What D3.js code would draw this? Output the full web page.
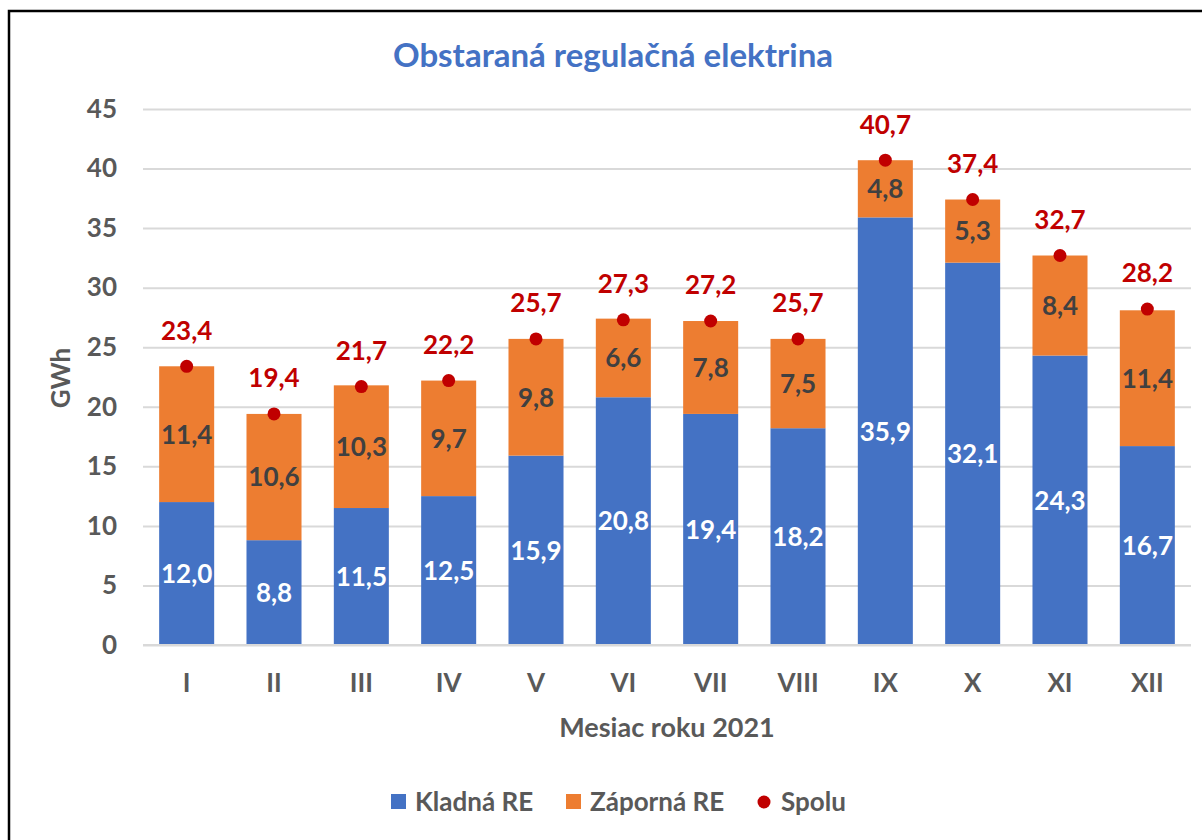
<!DOCTYPE html>
<html>
<head>
<meta charset="utf-8">
<script src="https://cdn.jsdelivr.net/npm/d3@7"></script>
<style>
  body { margin: 0; background: #fff; }
  svg text { font-family: Lato, "Open Sans", sans-serif; }
</style>
</head>
<body>
<div id="chart"></div>
<script>
// months of 2021
var months = ["I", "II", "III", "IV", "V", "VI", "VII", "VIII", "IX", "X", "XI", "XII"];
var kladna = [12.0, 8.8, 11.5, 12.5, 15.9, 20.8, 19.4, 18.2, 35.9, 32.1, 24.3, 16.7];
var zaporna = [11.4, 10.6, 10.3, 9.7, 9.8, 6.6, 7.8, 7.5, 4.8, 5.3, 8.4, 11.4];
var spolu = [23.4, 19.4, 21.7, 22.2, 25.7, 27.3, 27.2, 25.7, 40.7, 37.4, 32.7, 28.2];
var yTicks = [0, 5, 10, 15, 20, 25, 30, 35, 40, 45];

var width = 1202, height = 840;
var margin = { left: 143, right: 11, top: 109, bottom: 195 };

var fmt = function(v) { return v.toFixed(1).replace(".", ","); };

var svg = d3.select("#chart").append("svg")
    .attr("width", width)
    .attr("height", height);

svg.append("rect")
    .attr("x", 9).attr("y", 11)
    .attr("width", width).attr("height", height)
    .attr("fill", "#fff")
    .attr("stroke", "#000")
    .attr("stroke-width", 2.5);

var x = d3.scaleBand()
    .domain(months)
    .range([margin.left, width - margin.right])
    .paddingInner(0.37)
    .paddingOuter(0.185);

var y = d3.scaleLinear()
    .domain([0, 45])
    .range([height - margin.bottom, margin.top]);

// gridlines
var yAxis = svg.append("g")
    .attr("transform", "translate(" + margin.left + ",0)")
    .call(d3.axisLeft(y).tickValues(yTicks).tickSize(-(width - margin.right - margin.left)).tickPadding(26));
yAxis.select(".domain").remove();
yAxis.selectAll(".tick line").attr("stroke", "#d9d9d9").attr("stroke-width", 2);
yAxis.selectAll(".tick text")
    .attr("fill", "#595959")
    .style("font-size", "26px")
    .style("font-weight", "700");

var rows = months.map(function(m, i) {
    return { month: m, kladna: kladna[i], zaporna: zaporna[i], spolu: spolu[i] };
});
var stack = d3.stack().keys(["kladna", "zaporna"])(rows);
var colors = { kladna: "#4472C4", zaporna: "#ED7D31" };
var labelColors = { kladna: "#ffffff", zaporna: "#404040" };

var layers = svg.selectAll(".layer")
    .data(stack)
    .enter().append("g")
    .attr("class", "layer");

layers.selectAll("rect")
    .data(function(d) { return d; })
    .enter().append("rect")
    .attr("x", function(d) { return x(d.data.month); })
    .attr("y", function(d) { return y(d[1]); })
    .attr("width", x.bandwidth())
    .attr("height", function(d) { return y(d[0]) - y(d[1]); })
    .attr("fill", function(d) { return colors[d3.select(this.parentNode).datum().key]; });

layers.each(function(layer) {
    d3.select(this).selectAll("text")
        .data(layer)
        .enter().append("text")
        .attr("x", function(d) { return x(d.data.month) + x.bandwidth() / 2; })
        .attr("y", function(d) { return (y(d[0]) + y(d[1])) / 2; })
        .attr("dy", "0.36em")
        .attr("text-anchor", "middle")
        .attr("fill", labelColors[layer.key])
        .style("font-size", "26px")
        .style("font-weight", "700")
        .text(function(d) { return fmt(d[1] - d[0]); });
});

// zero line on top
svg.append("line")
    .attr("x1", margin.left).attr("x2", width - margin.right)
    .attr("y1", y(0)).attr("y2", y(0))
    .attr("stroke", "#d9d9d9").attr("stroke-width", 2);

// totals
svg.selectAll(".dot")
    .data(rows)
    .enter().append("circle")
    .attr("class", "dot")
    .attr("cx", function(d) { return x(d.month) + x.bandwidth() / 2; })
    .attr("cy", function(d) { return y(d.spolu); })
    .attr("r", 6.5)
    .attr("fill", "#C00000");

svg.selectAll(".total")
    .data(rows)
    .enter().append("text")
    .attr("class", "total")
    .attr("x", function(d) { return x(d.month) + x.bandwidth() / 2; })
    .attr("y", function(d) { return y(d.spolu) - 36; })
    .attr("dy", "0.36em")
    .attr("text-anchor", "middle")
    .attr("fill", "#C00000")
    .style("font-size", "26px")
    .style("font-weight", "700")
    .text(function(d) { return fmt(d.spolu); });

// x axis labels
var xAxis = svg.append("g")
    .attr("transform", "translate(0," + y(0) + ")")
    .call(d3.axisBottom(x).tickSize(0).tickPadding(28));
xAxis.select(".domain").remove();
xAxis.selectAll(".tick text")
    .attr("dy", "0")
    .attr("y", 47)
    .attr("fill", "#595959")
    .style("font-size", "26px")
    .style("font-weight", "700");

// titles
svg.append("text")
    .attr("x", 613).attr("y", 55)
    .attr("dy", "0.36em")
    .attr("text-anchor", "middle")
    .attr("fill", "#4472C4")
    .style("font-size", "33px")
    .style("font-weight", "700")
    .text("Obstaraná regulačná elektrina");

svg.append("text")
    .attr("x", (margin.left + width - margin.right) / 2).attr("y", 727)
    .attr("dy", "0.36em")
    .attr("text-anchor", "middle")
    .attr("fill", "#595959")
    .style("font-size", "27px")
    .style("font-weight", "700")
    .text("Mesiac roku 2021");

svg.append("text")
    .attr("transform", "translate(61,378) rotate(-90)")
    .attr("dy", "0.36em")
    .attr("text-anchor", "middle")
    .attr("fill", "#595959")
    .style("font-size", "26px")
    .style("font-weight", "700")
    .text("GWh");

// legend
var legendItems = [
    { name: "Kladná RE", color: "#4472C4", shape: "rect", x: 391 },
    { name: "Záporná RE", color: "#ED7D31", shape: "rect", x: 566 },
    { name: "Spolu", color: "#C00000", shape: "circle", x: 757 }
];
var legend = svg.append("g").attr("transform", "translate(0,802)");
legendItems.forEach(function(it) {
    if (it.shape === "rect") {
        legend.append("rect").attr("x", it.x).attr("y", -8).attr("width", 15).attr("height", 15).attr("fill", it.color);
    } else {
        legend.append("circle").attr("cx", it.x + 7).attr("cy", 0).attr("r", 6.5).attr("fill", it.color);
    }
    legend.append("text")
        .attr("x", it.x + 24).attr("y", 0)
        .attr("dy", "0.36em")
        .attr("fill", "#595959")
        .style("font-size", "26px")
        .style("font-weight", "700")
        .text(it.name);
});
</script>
</body>
</html>
